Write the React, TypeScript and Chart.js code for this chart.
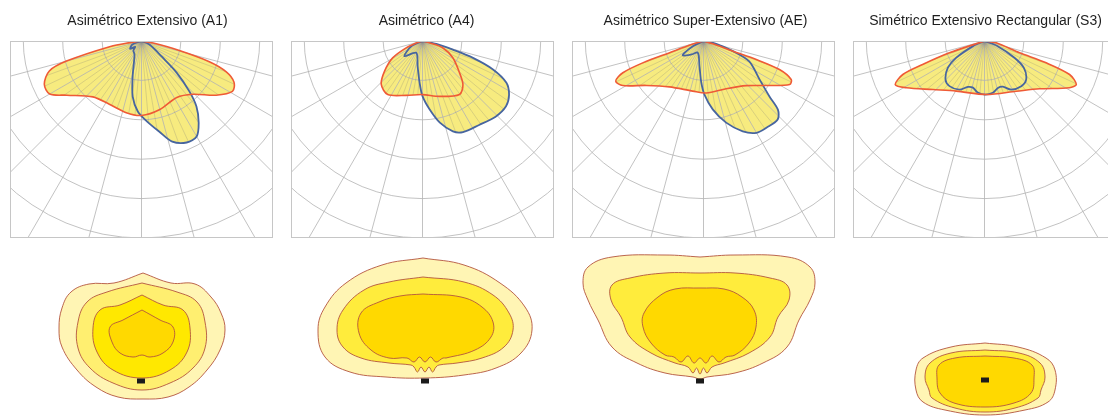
import React, { useEffect, useRef } from 'react';
import { Chart, registerables } from 'chart.js';
Chart.register(...registerables);

// ---------- titles ----------
const TITLES = [
  'Asimétrico Extensivo (A1)',
  'Asimétrico (A4)',
  'Asimétrico Super-Extensivo (AE)',
  'Simétrico Extensivo Rectangular (S3)',
];

// ---------- polar grid (cd/klm rings, gamma spokes) ----------
const RINGS = [100, 200, 300, 400, 500, 600];
const SPOKES = [-90, -75, -60, -45, -30, -15, 0, 15, 30, 45, 60, 75, 90];
const FINE_SPOKES = [-85, -80, -70, -65, -55, -50, -40, -35, -25, -20, -10, -5, 5, 10, 20, 25, 35, 40, 50, 55, 65, 70, 80, 85];

// ---------- polar intensity curves: gamma angle (deg) / intensity (cd/klm) ----------
const A1_C0_ANGLES = [-90, -82, -80, -75, -72, -66, -60, -54, -41, -27, -12, 0, 15, 32, 44, 54, 61, 66, 70, 73, 76, 80, 90];
const A1_C0_VALUES = [0, 30, 80, 197, 246, 270, 269, 234, 188, 180, 186, 189, 180, 169, 188, 234, 264, 257, 229, 180, 95, 30, 0];
const A1_C90_ANGLES = [-90, -69, -55, -48, -40, -27, -14, -9, -3, 4, 11, 17, 24, 30, 35, 40, 43.5, 48, 52, 66, 90];
const A1_C90_VALUES = [0, 25, 35, 22, 32, 39, 93, 143, 179, 205, 234, 267, 282, 280, 253, 217, 177, 120, 68, 22, 0];

const A4_C0_ANGLES = [-90, -75, -67.4, -60.5, -51.5, -43.5, -33, -16.7, 0, 17, 34.7, 42.8, 49.3, 61, 71.5, 75.6, 90];
const A4_C0_VALUES = [0, 12, 45, 87, 123, 152, 162, 144, 136, 147, 165, 151, 124, 88, 54, 18, 0];
const A4_C90_ANGLES = [-90, -65, -50, -28, -11, -4, 0, 6, 12, 18.6, 24, 34, 44, 52, 58, 63.5, 68, 71.5, 74, 78, 90];
const A4_C90_VALUES = [0, 31, 60, 34, 65, 106, 140, 175, 212, 242, 253, 257, 267, 269, 259, 238, 193, 135, 80, 36, 0];

const AE_C0_ANGLES = [-90, -74, -71, -70.2, -68.5, -65.4, -61.1, -52.2, -36.6, -12, 3, 25.4, 43.8, 54.6, 63.2, 66.3, 69.4, 70.7, 70.8, 73.2, 90];
const AE_C0_VALUES = [0, 30, 91, 164, 220, 245, 234, 184, 145, 130, 132, 134, 157, 195, 245, 243, 206, 142, 79, 25, 0];
const AE_C90_ANGLES = [-90, -64, -58, -55, -42, -26, -9, -3, 1, 7.7, 15.5, 23.5, 30, 36, 43.4, 47.3, 50, 55.5, 66, 71, 77.6, 90];
const AE_C90_VALUES = [0, 30, 57, 64, 46, 33, 65, 106, 136, 175, 215, 250, 269, 272, 274, 257, 218, 173, 127, 79, 33, 0];

const S3_C0_ANGLES = [-90, -71.4, -69.2, -67.7, -63.9, -59.1, -46.8, -29.4, 1.8, 32.3, 49, 61.2, 64.6, 68.5, 70.5, 71.4, 81, 90];
const S3_C0_VALUES = [0, 94, 168, 224, 252, 231, 180, 146, 136, 151, 185, 246, 258, 232, 166, 94, 30, 0];
const S3_C90_ANGLES = [-90, -66, -59.3, -53.9, -45.4, -37.8, -27.3, -20, -14, -7.4, 0.7, 9.1, 15.9, 21.8, 28.8, 39.1, 47.3, 55.7, 60.8, 68.6, 90];
const S3_C90_VALUES = [0, 32, 84, 115, 139, 145, 139, 124, 122, 132, 136, 133, 124, 125, 141, 148, 144, 121, 87, 36, 0];

// ---------- isolux contours (m, relative to luminaire) ----------
const A1_ISO1_X = [0.2, 3.0, 5.4, 7.0, 8.0, 8.4, 7.9, 6.6, 4.8, 2.7, 0.2, -2.3, -4.5, -6.4, -7.9, -8.2, -7.9, -7.0, -5.2, -2.7, 0.2];
const A1_ISO1_Y = [10.8, 9.8, 9.7, 8.4, 6.8, 5.1, 3.1, 1.1, -0.6, -1.6, -1.8, -1.6, -0.6, 1.1, 3.4, 5.3, 7.3, 8.9, 9.7, 9.8, 10.8];
const A1_ISO2_X = [0.1, 3.6, 5.6, 6.4, 6.4, 5.2, 2.9, 0.1, -2.8, -5.1, -6.3, -6.3, -5.4, -3.4, 0.1];
const A1_ISO2_Y = [9.8, 8.9, 7.9, 5.9, 3.3, 1.3, -0.2, -0.9, -0.2, 1.3, 3.3, 5.9, 7.9, 8.9, 9.8];
const A1_ISO3_X = [0.1, 2.2, 4.2, 4.9, 4.6, 2.9, 0.1, -2.8, -4.4, -4.8, -4.1, -2.1, 0.1];
const A1_ISO3_Y = [8.6, 7.6, 7.1, 5.3, 2.9, 1.1, 0.3, 1.1, 2.9, 5.3, 7.1, 7.6, 8.6];
const A1_ISO4_X = [0.1, 1.9, 3.2, 3.2, 2.2, 0.9, 0.1, -0.8, -2.1, -2.9, -3.1, -1.8, 0.1];
const A1_ISO4_Y = [7.1, 6.1, 5.4, 3.9, 2.8, 2.4, 2.6, 2.4, 2.8, 3.9, 5.4, 6.1, 7.1];

const A4_ISO1_X = [-0.2, 3.9, 7.5, 10.0, 10.7, 9.6, 7.1, 3.9, 0, -3.9, -7.5, -10.0, -10.7, -10.0, -7.9, -4.3, -0.2];
const A4_ISO1_Y = [12.3, 11.6, 9.8, 7.4, 5.1, 2.8, 1.3, 0.6, 0.3, 0.4, 0.9, 2.4, 5.1, 7.4, 9.8, 11.6, 12.3];
const A4_ISO2_X = [-0.2, 3.9, 6.8, 8.4, 8.8, 7.9, 5.7, 3.2, 1.4, 1.1, 0.75, 0.4, 0, -0.4, -0.75, -1.1, -1.4, -3.6, -6.4, -8.2, -8.8, -8.2, -6.1, -3.6, -0.2];
const A4_ISO2_Y = [10.4, 9.9, 8.6, 6.8, 5.1, 3.4, 2.3, 1.8, 1.6, 1.4, 0.9, 1.4, 0.9, 1.4, 0.9, 1.4, 1.6, 1.8, 2.3, 3.4, 5.1, 7.1, 9.1, 9.9, 10.4];
const A4_ISO3_X = [-0.2, 3.6, 5.7, 6.8, 6.6, 5.0, 2.1, 1.8, 1.1, 0.55, 0, -0.55, -1.1, -1.8, -3.6, -5.4, -6.6, -6.4, -4.6, -2.5, -0.2];
const A4_ISO3_Y = [8.7, 8.4, 7.4, 5.9, 4.4, 3.1, 2.3, 2.3, 1.9, 2.4, 1.9, 2.4, 1.9, 2.3, 2.3, 3.1, 4.8, 6.8, 7.9, 8.5, 8.7];

const AE_ISO1_X = [0, 3.5, 8.8, 11.0, 11.5, 11.0, 9.9, 8.7, 6.3, 3.5, 0.7, 0, -0.7, -3.5, -6.3, -8.8, -10.2, -11.2, -11.7, -11.2, -8.8, -3.5, 0];
const AE_ISO1_Y = [12.4, 12.6, 12.4, 11.4, 9.8, 8.1, 6.1, 3.4, 1.8, 0.8, 0.4, 0.2, 0.4, 0.8, 1.8, 3.4, 6.1, 8.1, 9.8, 11.4, 12.4, 12.6, 12.4];
const AE_ISO2_X = [0, 3.5, 7.0, 8.7, 8.9, 7.8, 7.0, 4.9, 2.4, 1.2, 0.7, 0.35, 0, -0.35, -0.7, -1.2, -2.5, -4.9, -7.0, -7.9, -8.9, -8.8, -7.0, -3.5, 0];
const AE_ISO2_Y = [10.8, 10.8, 10.3, 9.6, 8.1, 6.4, 4.4, 2.8, 1.8, 1.4, 0.8, 1.3, 0.7, 1.3, 0.8, 1.4, 1.8, 2.8, 4.4, 6.4, 8.1, 9.6, 10.3, 10.8, 10.8];
const AE_ISO3_X = [0, 2.4, 4.2, 5.4, 5.6, 4.9, 3.5, 2.6, 1.9, 1.2, 0.6, 0, -0.6, -1.2, -1.9, -2.6, -3.5, -4.9, -5.7, -5.6, -4.2, -2.5, 0];
const AE_ISO3_Y = [9.3, 9.2, 8.4, 7.1, 5.4, 3.8, 2.6, 2.4, 1.9, 2.5, 1.8, 2.3, 1.8, 2.5, 1.9, 2.4, 2.6, 3.8, 5.4, 6.8, 8.4, 9.2, 9.3];

const S3_ISO1_X = [0, 3.3, 6.1, 7.0, 7.0, 6.3, 4.0, 0, -4.0, -6.2, -6.9, -6.9, -6.2, -3.4, 0];
const S3_ISO1_Y = [3.7, 3.3, 2.2, 1.0, -1.0, -2.2, -3.0, -3.5, -3.0, -2.2, -1.0, 1.0, 2.2, 3.3, 3.7];
const S3_ISO2_X = [0, 3.4, 5.5, 6.0, 5.6, 5.3, 3.0, 0, -3.0, -5.3, -5.6, -6.0, -5.5, -3.4, 0];
const S3_ISO2_Y = [3.0, 2.7, 1.7, 0.3, -1.0, -1.8, -2.8, -3.2, -2.8, -1.8, -1.0, 0.3, 1.7, 2.7, 3.0];
const S3_ISO3_X = [0, 2.9, 4.7, 4.9, 4.6, 2.9, 0, -3.1, -4.5, -4.8, -4.6, -3.0, 0];
const S3_ISO3_Y = [2.4, 2.2, 1.5, 0.2, -1.3, -2.3, -2.7, -2.3, -1.3, 0.2, 1.5, 2.2, 2.4];

// ---------- styles ----------
const FONT = "'Liberation Sans', Arial, sans-serif";
const FILL = '#f7eb7f';
const RED = '#ef5a36';
const BLUE = '#47659f';
const GRID = '#b3b3b3';
const SEAM = 'rgba(120,120,120,0.4)';
const FRAME = '#c6c6c6';
const ISO_LINE = '#b3553e';
const ISO_COLORS_4 = ['#fff5b4', '#ffef70', '#ffe800', '#ffd900'];
const ISO_COLORS_3 = ['#fff5b4', '#ffec3c', '#ffd900'];

const PANEL_LEFT = [10, 291, 572, 853];
const TITLE_SHIFT = [6, 4, 2, 1];
const PANEL_W = 263;

function polarPoints(angles: number[], values: number[]) {
  return angles.map((a, i) => {
    const t = (a * Math.PI) / 180;
    return { x: values[i] * Math.sin(t), y: -values[i] * Math.cos(t) };
  });
}
function xyPoints(xs: number[], ys: number[]) {
  return xs.map((x, i) => ({ x, y: ys[i] }));
}

const polarGridPlugin = {
  id: 'polarGrid',
  afterLayout(chart: any, _args: any, opts: any) {
    const t = chart.titleBlock;
    const d = (opts && opts.titleShift) || 0;
    if (t) {
      t.left += d;
      t.right += d;
    }
  },
  beforeDatasetDraw(chart: any, args: any) {
    if (args.index !== 1) return;
    const { ctx, chartArea: a, scales } = chart;
    const sx = scales.x, sy = scales.y;
    const cx = sx.getPixelForValue(0), cy = sy.getPixelForValue(0);
    const k = (sx.getPixelForValue(100) - cx) / 100;
    const spoke = (deg: number, len: number) => {
      const t = (deg * Math.PI) / 180;
      ctx.beginPath();
      ctx.moveTo(cx, cy);
      ctx.lineTo(cx + Math.sin(t) * len * k, cy + Math.cos(t) * len * k);
      ctx.stroke();
    };
    ctx.save();
    ctx.beginPath();
    ctx.rect(a.left, a.top, a.width, a.height);
    ctx.clip();
    ctx.strokeStyle = GRID;
    ctx.lineWidth = 0.8;
    RINGS.forEach((r) => {
      ctx.beginPath();
      ctx.arc(cx, cy, r * k, 0, Math.PI);
      ctx.stroke();
    });
    SPOKES.forEach((d) => spoke(d, 800));
    // fine spokes visible inside the filled intensity shapes only
    const m2 = chart.getDatasetMeta(2).dataset;
    const m3 = chart.getDatasetMeta(3).dataset;
    ctx.beginPath();
    m2.path(ctx);
    m3.path(ctx);
    ctx.clip();
    ctx.strokeStyle = SEAM;
    ctx.lineWidth = 0.6;
    FINE_SPOKES.forEach((d) => spoke(d, 800));
    ctx.restore();
  },
  afterDraw(chart: any) {
    const { ctx, chartArea: a } = chart;
    ctx.save();
    ctx.strokeStyle = FRAME;
    ctx.lineWidth = 1;
    ctx.strokeRect(a.left + 0.5, a.top + 0.5, a.width - 1, a.height - 1);
    ctx.restore();
  },
};

function PolarPanel(props: { idx: number; c0: number[][]; c90: number[][] }) {
  const ref = useRef<HTMLCanvasElement>(null);
  const { idx, c0, c90 } = props;
  useEffect(() => {
    const p0 = polarPoints(c0[0], c0[1]);
    const p90 = polarPoints(c90[0], c90[1]);
    const base = { showLine: true, pointRadius: 0, pointHoverRadius: 0, tension: 0.3 };
    const half = (PANEL_W / 2) * (500 / 197);
    const chart = new Chart(ref.current as HTMLCanvasElement, {
      type: 'scatter',
      data: {
        datasets: [
          { ...base, data: p0, borderColor: RED, borderWidth: 1.6, fill: false, order: 1 },
          { ...base, data: p90, borderColor: BLUE, borderWidth: 1.8, fill: false, order: 1 },
          { ...base, data: p0, borderColor: 'rgba(0,0,0,0)', borderWidth: 1, backgroundColor: FILL, fill: 'shape', order: 2 },
          { ...base, data: p90, borderColor: 'rgba(0,0,0,0)', borderWidth: 1, backgroundColor: FILL, fill: 'shape', order: 2 },
        ],
      } as any,
      options: {
        animation: false,
        responsive: false,
        maintainAspectRatio: false,
        layout: { padding: 0, autoPadding: false },
        plugins: {
          legend: { display: false },
          tooltip: { enabled: false },
          polarGrid: { titleShift: TITLE_SHIFT[idx] },
          title: {
            display: true,
            text: TITLES[idx],
            color: '#1e1e1e',
            font: { family: FONT, size: 14, weight: 'normal', lineHeight: 1.2 },
            padding: { top: 12.6, bottom: 11.6 },
          },
        },
        scales: {
          x: { type: 'linear', display: false, min: -half, max: half },
          y: { type: 'linear', display: false, min: -500, max: 0 },
        },
      } as any,
      plugins: [polarGridPlugin],
    });
    return () => chart.destroy();
  }, []);
  return (
    <canvas
      ref={ref}
      width={PANEL_W}
      height={238}
      style={{ position: 'absolute', left: PANEL_LEFT[idx], top: 0, width: PANEL_W, height: 238 }}
    />
  );
}

function IsoluxPanel(props: { idx: number; levels: number[][][]; colors: string[]; lumX: number; lumY: number }) {
  const ref = useRef<HTMLCanvasElement>(null);
  const { idx, levels, colors, lumX, lumY } = props;
  useEffect(() => {
    const n = levels.length;
    const datasets: any[] = levels.map((lv, i) => ({
      data: xyPoints(lv[0], lv[1]),
      showLine: true,
      pointRadius: 0,
      pointHoverRadius: 0,
      tension: 0.4,
      borderColor: ISO_LINE,
      borderWidth: 0.9,
      backgroundColor: colors[i],
      fill: 'shape',
      order: n - i + 1,
    }));
    datasets.push({
      data: [{ x: 0, y: 0 }],
      pointStyle: 'line',
      pointRadius: 4,
      pointHoverRadius: 4,
      pointBorderWidth: 5,
      pointBorderColor: '#1b1b1b',
      pointBackgroundColor: '#1b1b1b',
      order: 0,
    });
    const top = 245, h = 171, unit = 10;
    const left = PANEL_LEFT[idx];
    const chart = new Chart(ref.current as HTMLCanvasElement, {
      type: 'scatter',
      data: { datasets },
      options: {
        animation: false,
        responsive: false,
        maintainAspectRatio: false,
        layout: { padding: 0, autoPadding: false },
        plugins: { legend: { display: false }, tooltip: { enabled: false } },
        scales: {
          x: { type: 'linear', display: false, min: (left - lumX) / unit, max: (left + PANEL_W - lumX) / unit },
          y: { type: 'linear', display: false, min: (lumY - (top + h)) / unit, max: (lumY - top) / unit },
        },
      } as any,
    });
    return () => chart.destroy();
  }, []);
  return (
    <canvas
      ref={ref}
      width={PANEL_W}
      height={171}
      style={{ position: 'absolute', left: PANEL_LEFT[idx], top: 245, width: PANEL_W, height: 171 }}
    />
  );
}

export default function App() {
  return (
    <div style={{ position: 'absolute', left: 0, top: 0, width: 1108, height: 416, overflow: 'hidden', background: '#fff' }}>
      <PolarPanel idx={0} c0={[A1_C0_ANGLES, A1_C0_VALUES]} c90={[A1_C90_ANGLES, A1_C90_VALUES]} />
      <PolarPanel idx={1} c0={[A4_C0_ANGLES, A4_C0_VALUES]} c90={[A4_C90_ANGLES, A4_C90_VALUES]} />
      <PolarPanel idx={2} c0={[AE_C0_ANGLES, AE_C0_VALUES]} c90={[AE_C90_ANGLES, AE_C90_VALUES]} />
      <PolarPanel idx={3} c0={[S3_C0_ANGLES, S3_C0_VALUES]} c90={[S3_C90_ANGLES, S3_C90_VALUES]} />
      <IsoluxPanel idx={0} lumX={141} lumY={381} colors={ISO_COLORS_4}
        levels={[[A1_ISO1_X, A1_ISO1_Y], [A1_ISO2_X, A1_ISO2_Y], [A1_ISO3_X, A1_ISO3_Y], [A1_ISO4_X, A1_ISO4_Y]]} />
      <IsoluxPanel idx={1} lumX={425} lumY={381} colors={ISO_COLORS_3}
        levels={[[A4_ISO1_X, A4_ISO1_Y], [A4_ISO2_X, A4_ISO2_Y], [A4_ISO3_X, A4_ISO3_Y]]} />
      <IsoluxPanel idx={2} lumX={700} lumY={381} colors={ISO_COLORS_3}
        levels={[[AE_ISO1_X, AE_ISO1_Y], [AE_ISO2_X, AE_ISO2_Y], [AE_ISO3_X, AE_ISO3_Y]]} />
      <IsoluxPanel idx={3} lumX={985} lumY={380} colors={ISO_COLORS_3}
        levels={[[S3_ISO1_X, S3_ISO1_Y], [S3_ISO2_X, S3_ISO2_Y], [S3_ISO3_X, S3_ISO3_Y]]} />
    </div>
  );
}
